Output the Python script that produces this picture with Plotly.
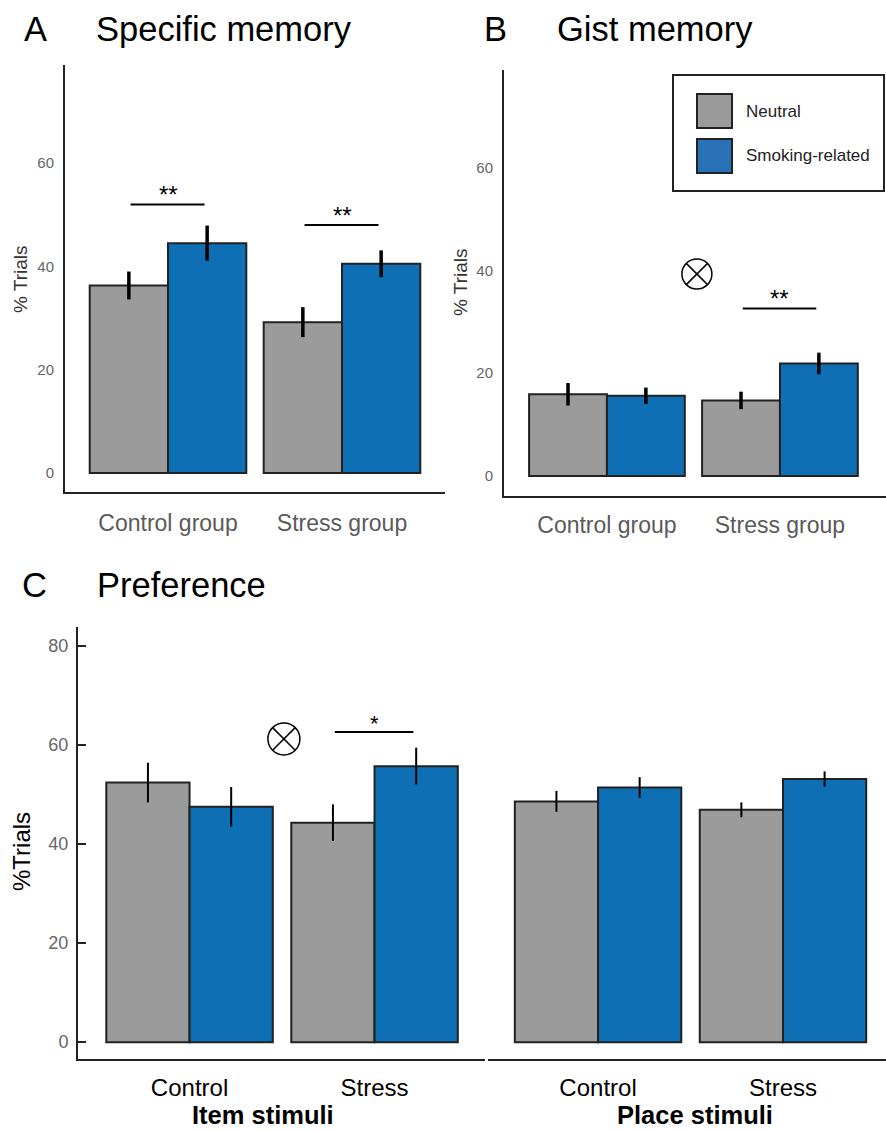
import plotly.graph_objects as go

W, H = 886, 1132

# ---------------- data ----------------
groups_ab = ["Control group", "Stress group"]
groups_c = ["Control", "Stress"]
series_names = ["Neutral", "Smoking-related"]

spec_neutral = [36.3, 29.2]
spec_smoking = [44.5, 40.5]
spec_neutral_err = [2.7, 2.9]
spec_smoking_err = [3.4, 2.6]

gist_neutral = [15.9, 14.7]
gist_smoking = [15.6, 21.9]
gist_neutral_err = [2.2, 1.7]
gist_smoking_err = [1.6, 2.1]

item_neutral = [52.4, 44.3]
item_smoking = [47.5, 55.7]
item_neutral_err = [4.0, 3.7]
item_smoking_err = [4.0, 3.75]

place_neutral = [48.6, 46.9]
place_smoking = [51.4, 53.1]
place_neutral_err = [2.1, 1.5]
place_smoking_err = [2.1, 1.55]

ticks_ab = [0, 20, 40, 60]
ticks_c = [0, 20, 40, 60, 80]

# significance brackets: (group index, bracket height, label)
spec_sig = [(0, 52.0, "**"), (1, 48.0, "**")]
gist_sig = [(1, 32.6, "**")]
item_sig = [(1, 62.6, "*")]
# interaction markers (x position in category units, y value)
gist_inter = (0.52, 39.3)
item_inter = (0.51, 61.2)

# ---------------- style ----------------
GRAY = "#9b9b9b"
BLUE = "#0e6fb4"
EDGE = "#222222"
FONT = "Liberation Sans, Arial, Helvetica, sans-serif"


def px(x):
    return x / W


def py(y):
    return 1 - y / H


fig = go.Figure()


def add_pair(xcat, neu, smo, neu_err, smo_err, xa, ya, eth):
    for vals, errs, col in ((neu, neu_err, GRAY), (smo, smo_err, BLUE)):
        fig.add_trace(go.Bar(
            x=xcat, y=vals, xaxis=xa, yaxis=ya,
            marker=dict(color=col, line=dict(color=EDGE, width=2)),
            error_y=dict(type="data", array=errs, color="black",
                         thickness=eth, width=0),
            showlegend=False, hoverinfo="skip"))


add_pair(groups_ab, spec_neutral, spec_smoking, spec_neutral_err, spec_smoking_err, "x", "y", 3.5)
add_pair(groups_ab, gist_neutral, gist_smoking, gist_neutral_err, gist_smoking_err, "x2", "y2", 3.5)
add_pair(groups_c, item_neutral, item_smoking, item_neutral_err, item_smoking_err, "x3", "y3", 2)
add_pair(groups_c, place_neutral, place_smoking, place_neutral_err, place_smoking_err, "x4", "y3", 2)

shapes = []
annotations = []


def add_sig(sigs, xref, yref, star_size, star_dy):
    for gi, h, lab in sigs:
        shapes.append(dict(type="line", xref=xref, yref=yref,
                           x0=gi - 0.215, x1=gi + 0.21, y0=h, y1=h,
                           line=dict(color="black", width=2)))
        annotations.append(dict(x=gi, y=h, xref=xref, yref=yref, text=lab,
                                showarrow=False, yanchor="bottom", yshift=star_dy,
                                font=dict(size=star_size, color="black", family=FONT)))


add_sig(spec_sig, "x", "y", 24, -6)
add_sig(gist_sig, "x2", "y2", 24, -6)
add_sig(item_sig, "x3", "y3", 22, -6)


def add_otimes(pos, xref, yref, r):
    xa, ya = pos
    shapes.append(dict(type="circle", xref=xref, yref=yref,
                       xsizemode="pixel", ysizemode="pixel", xanchor=xa, yanchor=ya,
                       x0=-r, x1=r, y0=-r, y1=r,
                       line=dict(color="black", width=1.5)))
    d = r * 0.7071
    for s in (1, -1):
        shapes.append(dict(type="line", xref=xref, yref=yref,
                           xsizemode="pixel", ysizemode="pixel", xanchor=xa, yanchor=ya,
                           x0=-d, x1=d, y0=-d * s, y1=d * s,
                           line=dict(color="black", width=1.5)))


add_otimes(gist_inter, "x2", "y2", 15)
add_otimes(item_inter, "x3", "y3", 16)

# legend (drawn manually, panel B)
shapes.append(dict(type="rect", xref="paper", yref="paper",
                   x0=px(673), x1=px(884), y0=py(191), y1=py(75),
                   line=dict(color=EDGE, width=2), fillcolor="white", layer="above"))
for (y0, y1), col, name in (((94, 128), GRAY, series_names[0]),
                            ((139, 173), "#2a72b6", series_names[1])):
    shapes.append(dict(type="rect", xref="paper", yref="paper",
                       x0=px(697), x1=px(732), y0=py(y1), y1=py(y0),
                       line=dict(color=EDGE, width=2), fillcolor=col, layer="above"))
    annotations.append(dict(x=px(744), y=py((y0 + y1) / 2), xref="paper", yref="paper",
                            text=name, showarrow=False, xanchor="left", yanchor="middle",
                            font=dict(size=17, color="#222", family=FONT)))

# panel titles
for lx, tx, ty, letter, title in ((22, 94, 29, "A", "Specific memory"),
                                   (482, 555, 29, "B", "Gist memory"),
                                   (20, 95, 585, "C", "Preference")):
    annotations.append(dict(x=px(lx), y=py(ty), xref="paper", yref="paper", text=letter,
                            showarrow=False, xanchor="left", yanchor="middle",
                            font=dict(size=34.5, color="black", family=FONT)))
    annotations.append(dict(x=px(tx), y=py(ty), xref="paper", yref="paper", text=title,
                            showarrow=False, xanchor="left", yanchor="middle",
                            font=dict(size=34.5, color="black", family=FONT)))

# y-axis titles
annotations.append(dict(x=px(20), y=py(279), xref="paper", yref="paper", text="% Trials",
                        textangle=-90, showarrow=False, xanchor="center", yanchor="middle",
                        font=dict(size=19, color="#333", family=FONT)))
annotations.append(dict(x=px(460), y=py(282), xref="paper", yref="paper", text="% Trials",
                        textangle=-90, showarrow=False, xanchor="center", yanchor="middle",
                        font=dict(size=19, color="#333", family=FONT)))
annotations.append(dict(x=px(21), y=py(852), xref="paper", yref="paper", text="%Trials",
                        textangle=-90, showarrow=False, xanchor="center", yanchor="middle",
                        font=dict(size=24, color="black", family=FONT)))

# stimulus group labels
for cx, lab in ((263, "Item stimuli"), (695, "Place stimuli")):
    annotations.append(dict(x=px(cx), y=py(1115), xref="paper", yref="paper",
                            text="<b>" + lab + "</b>", showarrow=False,
                            xanchor="center", yanchor="middle",
                            font=dict(size=25.5, color="black", family=FONT)))

axis_common = dict(showgrid=False, zeroline=False, showline=True,
                   linecolor=EDGE, linewidth=2, fixedrange=True)

fig.update_layout(
    width=W, height=H, margin=dict(l=0, r=0, t=0, b=0),
    paper_bgcolor="white", plot_bgcolor="white",
    barmode="group", bargap=0.1, bargroupgap=0,
    font=dict(family=FONT),
    shapes=shapes, annotations=annotations,
    xaxis=dict(domain=[px(65), px(445)], anchor="y", range=[-0.592, 1.592], ticks="",
               tickfont=dict(size=23, color="#5a5a5a"), ticklabelstandoff=9, **axis_common),
    yaxis=dict(domain=[py(492), py(65)], anchor="x", range=[-3.7, 79], tickvals=ticks_ab,
               ticks="", tickfont=dict(size=15, color="#666"), ticklabelstandoff=6, **axis_common),
    xaxis2=dict(domain=[px(504), 1], anchor="y2", range=[-0.595, 1.613], ticks="",
                tickfont=dict(size=23, color="#5a5a5a"), ticklabelstandoff=7, **axis_common),
    yaxis2=dict(domain=[py(496), py(70)], anchor="x2", range=[-3.9, 79], tickvals=ticks_ab,
                ticks="", tickfont=dict(size=15, color="#666"), ticklabelstandoff=6, **axis_common),
    xaxis3=dict(domain=[px(78), px(485)], anchor="y3", range=[-0.603, 1.597], ticks="",
                tickfont=dict(size=24, color="black"), ticklabelstandoff=6, **axis_common),
    xaxis4=dict(domain=[px(488), 1], anchor="y3", range=[-0.595, 1.557], ticks="",
                tickfont=dict(size=24, color="black"), ticklabelstandoff=6, **axis_common),
    yaxis3=dict(domain=[py(1059), py(627)], anchor="x3", range=[-3.4, 83.8], tickvals=ticks_c,
                ticks="inside", ticklen=8, tickwidth=1.5, tickcolor=EDGE,
                tickfont=dict(size=18, color="#666"), ticklabelstandoff=4, **axis_common),
)

fig.write_html("out.html", config={"displayModeBar": False},
               post_script="document.body.style.margin='0';document.body.style.overflow='hidden';")
